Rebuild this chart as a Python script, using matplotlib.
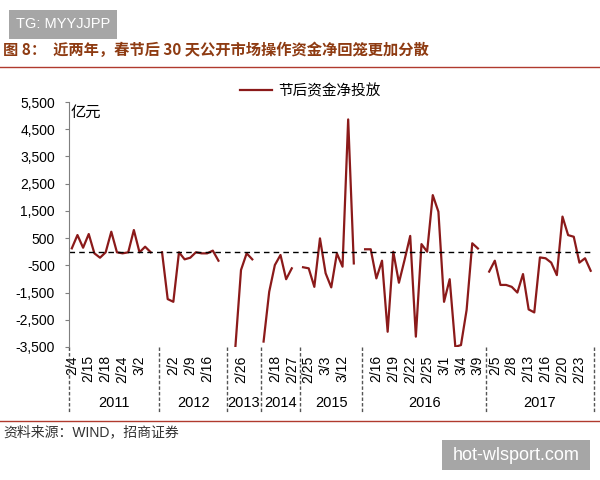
import matplotlib
matplotlib.use("Agg")
import matplotlib.pyplot as plt
import matplotlib.transforms as mtransforms
from matplotlib.patches import Rectangle
import numpy as np

plt.rcParams["font.family"] = ["Liberation Sans", "Noto Sans CJK SC"]

nan = np.nan
# 节后资金净投放（亿元），每年一段，段尾用 nan 断开
v2011 = [125, 613, 147, 650, -59, -220, -22, 735, -22, -59, -22, 797, -22, 184, -22, nan]
v2012 = [-20, -1740, -1840, -20, -280, -220, -20, -60, -60, 40, -330, nan]
v2013 = [nan, -3500, -670, -60, -280, nan]
v2014 = [-3300, -1470, -490, -120, -1010, -610, nan]
v2015 = [-570, -610, -1290, 490, -790, -1310, -60, -550, 4860, -430, nan]
v2016 = [90, 90, -980, -330, -2940, 0, -1140, -300, 580, -3120, 280, 0, 2080, 1470,
         -1840, -1010, -3490, -3430, -2140, 310, 120, nan]
v2017 = [-730, -330, -1220, -1220, -1290, -1500, -820, -2120, -2230, -210, -240, -400,
         -860, 1290, 610, 550, -400, -240, -700]

years = ["2011", "2012", "2013", "2014", "2015", "2016", "2017"]
segments = [v2011, v2012, v2013, v2014, v2015, v2016, v2017]
values = np.concatenate([np.array(s, dtype=float) for s in segments])
x = np.arange(len(values))

tick_idx = [0, 3, 6, 9, 12, 18, 21, 24, 30, 36, 39, 42, 45, 48, 54, 57, 60, 63, 66, 69, 72,
            75, 78, 81, 84, 87, 90]
tick_labels = ["2/4", "2/15", "2/18", "2/24", "3/2", "2/2", "2/9", "2/16", "2/26", "2/18", "2/27",
               "2/25", "3/3", "3/12", "2/16", "2/19", "2/22", "2/25", "3/1", "3/4", "3/9",
               "2/5", "2/8", "2/13", "2/16", "2/20", "2/23"]

W, H = 600, 480
fig = plt.figure(figsize=(6, 4.8), dpi=100)
ax = fig.add_axes([69 / W, (H - 347) / H, (593.5 - 69) / W, 245 / H])

line_color = "#8b1a1a"
ax.plot(x, values, color=line_color, lw=1.6, label="节后资金净投放")
ax.axhline(0, color="black", lw=1, ls=(0, (4, 3)))

ax.set_xlim(-0.5, len(values) - 0.5)
ax.set_ylim(-3500, 5500)
yt = np.arange(-3500, 5501, 1000)
ax.set_yticks(yt)
ax.set_yticklabels([f"{v:,}" for v in yt])
ax.set_xticks(tick_idx)
ax.set_xticklabels(tick_labels, rotation=90, va="top", ha="center")
ax.tick_params(axis="x", length=0, pad=6, labelsize=10)
ax.tick_params(axis="y", direction="out", length=3, pad=7, labelsize=10, color="#7f7f7f")
for s in ["top", "right", "bottom"]:
    ax.spines[s].set_visible(False)
ax.spines["left"].set_color("#7f7f7f")

# 年份分隔线和年份标签
blend = mtransforms.blended_transform_factory(ax.transData, ax.transAxes)
bounds = np.concatenate([[-0.5], np.cumsum([len(s) for s in segments]) - 0.5])
for b in bounds:
    ax.plot([b, b], [0, -0.27], transform=blend, clip_on=False, color="#555555",
            lw=1, ls=(0, (2.5, 1.5)))
for i, yr in enumerate(years):
    ax.text((bounds[i] + bounds[i + 1]) / 2, -0.228, yr, transform=blend,
            ha="center", va="center", fontsize=10.5)

ax.text(71 / W, (H - 113) / H, "亿元", transform=fig.transFigure, ha="left", va="center",
        fontsize=11)

fig.legend(loc="center left", bbox_to_anchor=(240 / W, (H - 91) / H), frameon=False,
           fontsize=10.5, handlelength=2.2, handletextpad=0.45, borderpad=0, borderaxespad=0)

# 标题和上下分隔线
fig.text(3 / W, (H - 50) / H, "图 8：  近两年，春节后 30 天公开市场操作资金净回笼更加分散",
         ha="left", va="center", fontsize=11, fontweight="bold", color="#8e3b12",
         family=["Noto Sans CJK SC"])
fig.add_artist(plt.Line2D([0, 1], [(H - 66.5) / H] * 2, color="#b03a2e", lw=1))
fig.add_artist(plt.Line2D([0, 1], [(H - 421) / H] * 2, color="#b03a2e", lw=1))
fig.text(3 / W, (H - 432) / H, "资料来源：WIND，招商证券", ha="left", va="center",
         fontsize=10, color="#333333")

# 水印
fig.add_artist(Rectangle((9 / W, (H - 39) / H), 108 / W, 29 / H, transform=fig.transFigure,
                         facecolor="#a6a6a6", edgecolor="none"))
fig.text(63 / W, (H - 24.5) / H, "TG: MYYJJPP", ha="center", va="center", fontsize=10.5,
         color="white")
fig.add_artist(Rectangle((442 / W, (H - 470) / H), 148 / W, 30 / H, transform=fig.transFigure,
                         facecolor="#a6a6a6", edgecolor="none"))
fig.text(516 / W, (H - 455) / H, "hot-wlsport.com", ha="center", va="center", fontsize=13,
         color="white")

plt.savefig("out.png", dpi=100)
